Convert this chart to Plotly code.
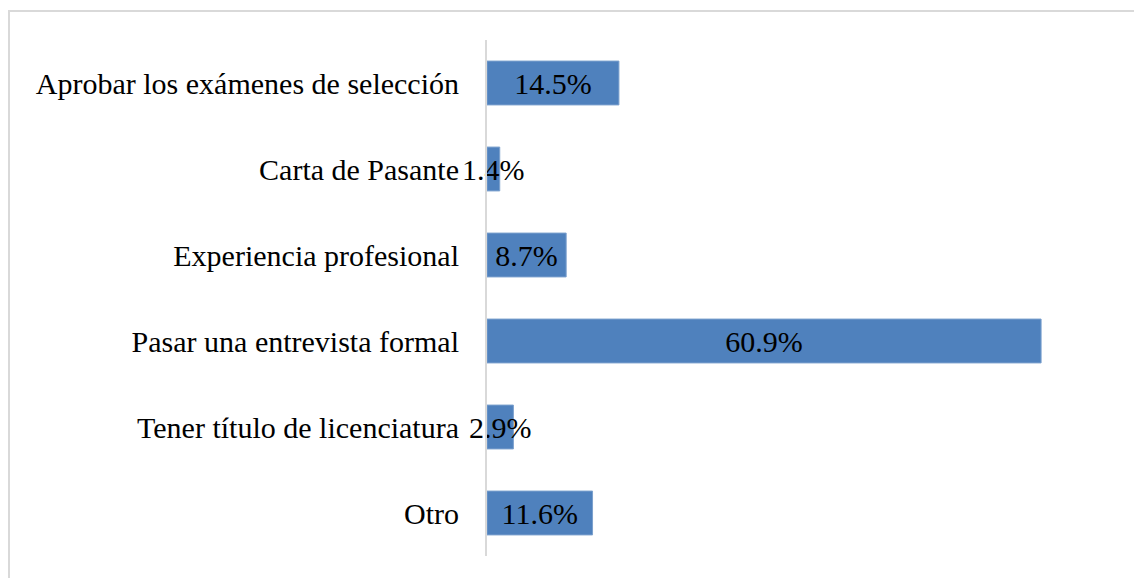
import plotly.graph_objects as go

categories = [
    "Aprobar los exámenes de selección",
    "Carta de Pasante",
    "Experiencia profesional",
    "Pasar una entrevista formal",
    "Tener título de licenciatura",
    "Otro",
]
values = [14.5, 1.4, 8.7, 60.9, 2.9, 11.6]
labels = [f"{v:.1f}%" for v in values]

FONT = "Liberation Serif"
W, H = 1142, 578
# page body adds an 8px offset, so the plot box is placed 8px up/left
left, right, top, bottom = 479, 108, 32, 30
plot_w = W - left - right
plot_h = H - top - bottom

fig = go.Figure()

fig.add_trace(
    go.Bar(
        x=values,
        y=categories,
        orientation="h",
        width=0.51,
        marker=dict(color="#4F81BD", line=dict(color="#7BA0CD", width=1)),
        text=labels,
        textposition="inside",
        insidetextanchor="middle",
        constraintext="none",
        textangle=0,
        textfont=dict(family=FONT, size=30, color="#000000"),
        cliponaxis=False,
        hoverinfo="skip",
    )
)

fig.update_layout(
    width=W,
    height=H,
    margin=dict(l=left, r=right, t=top, b=bottom),
    paper_bgcolor="white",
    plot_bgcolor="white",
    showlegend=False,
    font=dict(family=FONT, size=30, color="#000000"),
    xaxis=dict(
        range=[0, 61],
        visible=False,
        fixedrange=True,
    ),
    yaxis=dict(
        autorange="reversed",
        showline=True,
        linecolor="#D9D9D9",
        linewidth=2,
        showgrid=False,
        ticks="",
        ticklabelstandoff=20,
        tickfont=dict(family=FONT, size=30, color="#000000"),
    ),
    shapes=[
        dict(
            type="rect",
            xref="paper",
            yref="paper",
            x0=(1 - left) / plot_w,
            x1=(W + 20 - left) / plot_w,
            y0=-(H + 20 - top - plot_h) / plot_h,
            y1=1 + (top - 3) / plot_h,
            line=dict(color="#D9D9D9", width=2),
            layer="below",
        )
    ],
)

fig.write_html("out.html")
